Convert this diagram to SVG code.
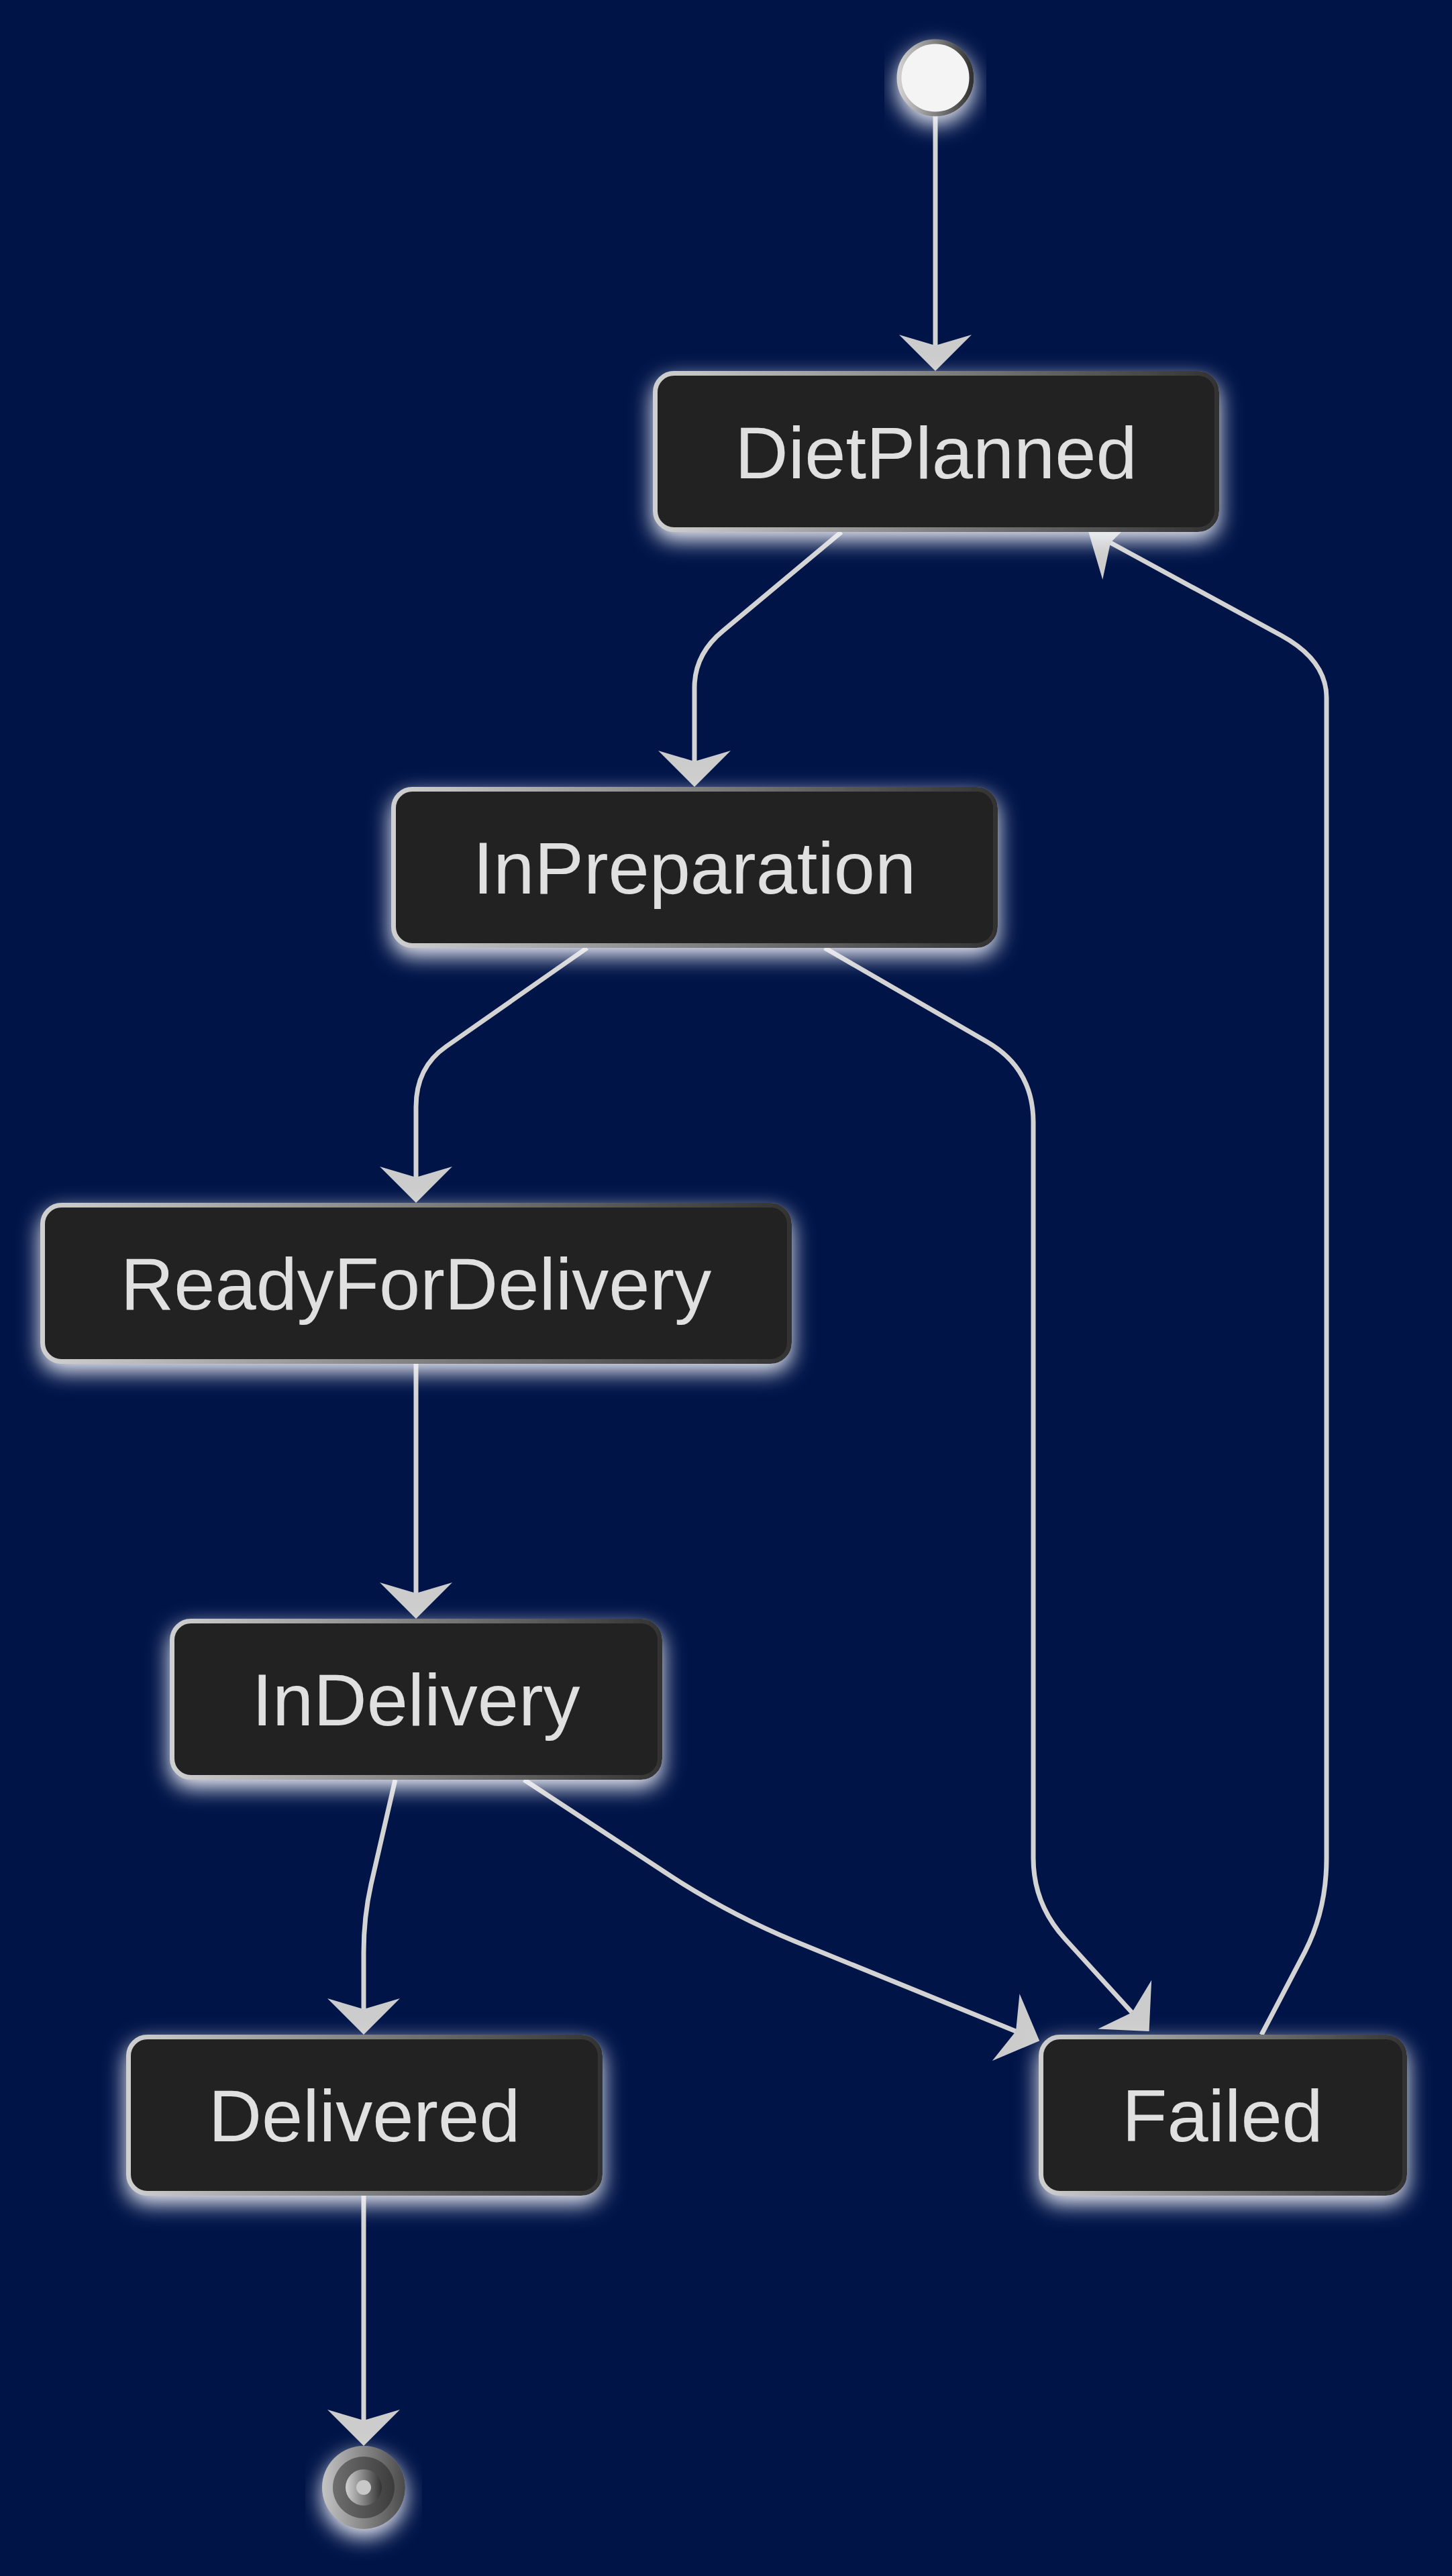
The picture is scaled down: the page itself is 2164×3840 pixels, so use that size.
<svg xmlns="http://www.w3.org/2000/svg" width="2164" height="3840" viewBox="0 0 2164 3840">
<defs>
<style>
.node rect{fill:#212221;stroke:url(#sg);stroke-width:7;filter:url(#glow)}
.node text{font-family:"Liberation Sans",Arial,sans-serif;font-size:110px;fill:#e0e0e0;text-anchor:middle}
.edge{fill:none;stroke:#d3d3d3;stroke-width:7;marker-end:url(#arr)}
</style>
<linearGradient id="sg" x1="0" y1="0" x2="1" y2="0">
<stop offset="0" stop-color="#cfcfcf"/><stop offset="1" stop-color="#333333"/>
</linearGradient>
<linearGradient id="g1" x1="0" y1="0" x2="1" y2="0">
<stop offset="0" stop-color="#c4c4c4"/><stop offset="1" stop-color="#4a4a4a"/>
</linearGradient>
<linearGradient id="g2" x1="0" y1="0" x2="1" y2="0">
<stop offset="0" stop-color="#6e6e6e"/><stop offset="1" stop-color="#3c3c3c"/>
</linearGradient>
<linearGradient id="g3" x1="0" y1="0" x2="1" y2="0">
<stop offset="0" stop-color="#d0d0d0"/><stop offset="1" stop-color="#333333"/>
</linearGradient>
<filter id="glow" x="-20%" y="-40%" width="140%" height="200%">
<feDropShadow dx="0" dy="12" stdDeviation="16" flood-color="#f2f3fa" flood-opacity="1"/>
</filter>
<marker id="arr" markerUnits="userSpaceOnUse" viewBox="-20 -60 64 120" refX="0" refY="0" markerWidth="64" markerHeight="120" orient="auto">
<path d="M38,0 L-16,-54 L0,0 L-16,54 Z" fill="#cccccc"/>
</marker>
</defs>
<rect width="2164" height="3840" fill="#001448"/>
<g id="connectors">
<path class="edge" d="M1394,173 L1394,515"/>
<path class="edge" d="M1254,793 L1078,940 Q1035,975 1035,1025 L1035,1135"/>
<path class="edge" d="M875,1413 L665,1560 Q620,1591 620,1650 L620,1755"/>
<path class="edge" d="M1229,1413 L1471,1553 Q1540,1593 1540,1673 L1540,2770 Q1540,2838 1587,2890 L1687,3000"/>
<path class="edge" d="M620,2033 L620,2375"/>
<path class="edge" d="M589,2653 L553,2809 Q542,2858 542,2910 L542,2995"/>
<path class="edge" d="M781,2653 L985,2787 Q1079,2850 1185,2894 L1514,3028"/>
<path class="edge" d="M1880,3033 L1945,2909 Q1977,2847 1977,2770 L1977,1040 Q1977,984 1909,947 L1655,809"/>
<path class="edge" d="M542,3273 L542,3608"/>
</g>
<g id="start">
<circle cx="1394" cy="116" r="54" fill="#f4f4f4" stroke="url(#g3)" stroke-width="7" filter="url(#glow)"/>
</g>
<g id="DietPlanned" class="node">
<rect x="976.5" y="556.5" width="837" height="233" rx="28"/>
<text x="1395" y="713">DietPlanned</text>
</g>
<g id="InPreparation" class="node">
<rect x="586.5" y="1176.5" width="897" height="233" rx="28"/>
<text x="1035" y="1332">InPreparation</text>
</g>
<g id="ReadyForDelivery" class="node">
<rect x="63.5" y="1796.5" width="1113" height="233" rx="28"/>
<text x="620" y="1952">ReadyForDelivery</text>
</g>
<g id="InDelivery" class="node">
<rect x="256.5" y="2416.5" width="727" height="233" rx="28"/>
<text x="620" y="2572">InDelivery</text>
</g>
<g id="Delivered" class="node">
<rect x="191.5" y="3036.5" width="703" height="233" rx="28"/>
<text x="543" y="3192">Delivered</text>
</g>
<g id="Failed" class="node">
<rect x="1551.5" y="3036.5" width="542" height="233" rx="28"/>
<text x="1822" y="3192">Failed</text>
</g>
<g id="end">
<circle cx="542" cy="3708" r="62" fill="url(#g1)" filter="url(#glow)"/>
<circle cx="542" cy="3708" r="46" fill="url(#g2)"/>
<circle cx="542" cy="3708" r="27" fill="url(#g3)"/>
<circle cx="542" cy="3708" r="11" fill="#c8c8c8"/>
</g>
</svg>
